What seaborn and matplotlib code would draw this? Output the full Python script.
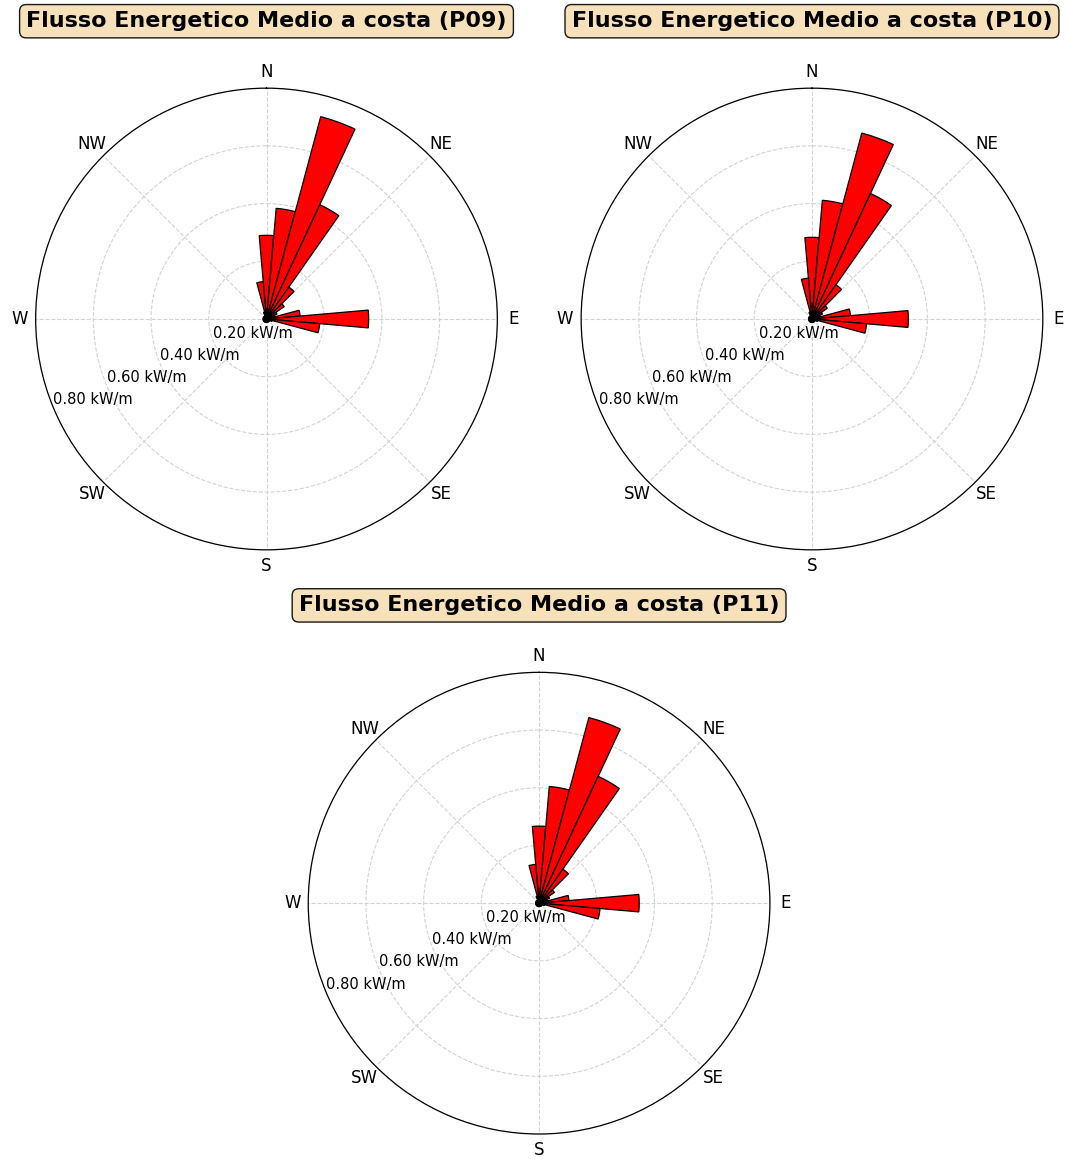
import numpy as np
import matplotlib
matplotlib.use('Agg')
import matplotlib.pyplot as plt
import seaborn as sns

# direction sectors (degrees from north, clockwise), 10 deg each
directions = np.arange(0, 360, 10)

# mean energy flux per sector [kW/m]
flux_p09 = [0.29, 0.385, 0.726, 0.437, 0.135, 0.075, 0.04, 0.03, 0.117, 0.354, 0.185, 0.02,
            0.012, 0.012, 0.012, 0.012, 0.012, 0.012, 0.012, 0.012, 0.012, 0.012, 0.012, 0.012,
            0.012, 0.012, 0.012, 0.012, 0.012, 0.012, 0.012, 0.012, 0.012, 0.012, 0.025, 0.13]
flux_p10 = [0.283, 0.413, 0.667, 0.48, 0.145, 0.065, 0.04, 0.03, 0.134, 0.334, 0.19, 0.02,
            0.012, 0.012, 0.012, 0.012, 0.012, 0.012, 0.012, 0.012, 0.012, 0.012, 0.012, 0.012,
            0.012, 0.012, 0.012, 0.012, 0.012, 0.012, 0.012, 0.012, 0.012, 0.012, 0.025, 0.142]
flux_p11 = [0.267, 0.406, 0.666, 0.485, 0.144, 0.065, 0.04, 0.03, 0.104, 0.347, 0.212, 0.02,
            0.012, 0.012, 0.012, 0.012, 0.012, 0.012, 0.012, 0.012, 0.012, 0.012, 0.012, 0.012,
            0.012, 0.012, 0.012, 0.012, 0.012, 0.012, 0.012, 0.012, 0.012, 0.012, 0.025, 0.135]

stations = ["P09", "P10", "P11"]
compass_labels = ["N", "NE", "E", "SE", "S", "SW", "W", "NW"]
r_ticks = [0.2, 0.4, 0.6, 0.8]
r_max = 0.8

sns.set_style("white")
plt.rcParams['text.color'] = 'black'
plt.rcParams['xtick.color'] = 'black'
plt.rcParams['ytick.color'] = 'black'
plt.rcParams['axes.edgecolor'] = 'black'


def draw_rose(ax, values, station):
    theta = np.deg2rad(directions)
    ax.set_theta_zero_location('N')
    ax.set_theta_direction(-1)
    ax.bar(theta, values, width=np.deg2rad(10), bottom=0.0,
           color='red', edgecolor='black', linewidth=0.9, zorder=3)
    ax.set_ylim(0, r_max)
    ax.set_xticks(np.deg2rad(np.arange(0, 360, 45)))
    ax.set_xticklabels(compass_labels, fontsize=12)
    ax.set_yticks(r_ticks)
    ax.set_yticklabels([f"{t:.2f} kW/m" for t in r_ticks], fontsize=10.5)
    ax.set_rlabel_position(247.5)
    ax.tick_params(axis='x', pad=1)
    ax.grid(True, color='lightgray', linestyle='--', linewidth=0.8)
    ax.spines['polar'].set_linewidth(0.9)
    ax.text(0.5, 1.145, f"Flusso Energetico Medio a costa ({station})",
            transform=ax.transAxes, ha='center', va='center',
            fontsize=16, fontweight='bold', color='black',
            bbox=dict(boxstyle='round,pad=0.3', facecolor='wheat', edgecolor='black', alpha=0.9))


fig = plt.figure(figsize=(10.66, 11.6), dpi=100)
ax1 = fig.add_axes([0.0333, 0.526, 0.4334, 0.398], projection='polar')
ax2 = fig.add_axes([0.545, 0.526, 0.4334, 0.398], projection='polar')
ax3 = fig.add_axes([0.289, 0.0224, 0.4334, 0.398], projection='polar')

draw_rose(ax1, flux_p09, stations[0])
draw_rose(ax2, flux_p10, stations[1])
draw_rose(ax3, flux_p11, stations[2])

fig.savefig("out.png", dpi=100)
